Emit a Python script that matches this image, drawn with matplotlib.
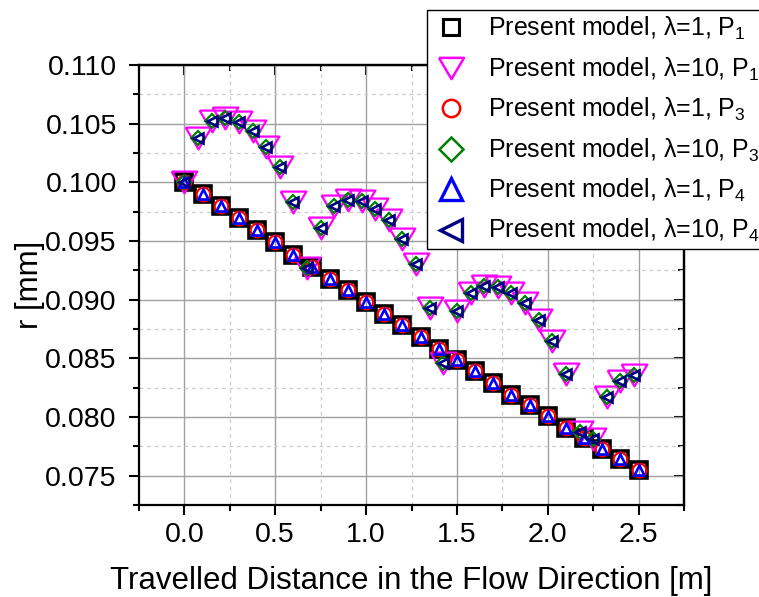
import numpy as np
import matplotlib
matplotlib.use("Agg")
import matplotlib.pyplot as plt
from matplotlib.ticker import MultipleLocator, FormatStrFormatter

plt.rcParams['font.family'] = ['Liberation Sans', 'DejaVu Sans']
plt.rcParams['mathtext.fontset'] = 'custom'
plt.rcParams['mathtext.rm'] = 'Liberation Sans'
plt.rcParams['mathtext.it'] = 'Liberation Sans:italic'
plt.rcParams['mathtext.bf'] = 'Liberation Sans:bold'

# ---- data ----
x_lam1 = [0.0, 0.1, 0.2, 0.3, 0.4, 0.5, 0.6, 0.7, 0.8, 0.9, 1.0, 1.1, 1.2,
          1.3, 1.4, 1.5, 1.6, 1.7, 1.8, 1.9, 2.0, 2.1, 2.2, 2.3, 2.4, 2.5]
r_lam1 = [0.1000, 0.0990, 0.0980, 0.0970, 0.0959, 0.0949, 0.0938, 0.0928,
          0.0918, 0.0908, 0.0898, 0.0888, 0.0878, 0.0868, 0.0858, 0.0849,
          0.0839, 0.0829, 0.0819, 0.0810, 0.0801, 0.0791, 0.0782, 0.0773,
          0.0764, 0.0755]

x_lam10 = [0.000, 0.075, 0.150, 0.225, 0.300, 0.375, 0.450, 0.525, 0.600,
           0.675, 0.750, 0.825, 0.900, 0.975, 1.050, 1.125, 1.200, 1.275,
           1.350, 1.425, 1.500, 1.575, 1.650, 1.725, 1.800, 1.875, 1.950,
           2.025, 2.100, 2.175, 2.250, 2.325, 2.400, 2.475]
r_lam10 = [0.1000, 0.1038, 0.1052, 0.1055, 0.1051, 0.1044, 0.1030, 0.1013,
           0.0983, 0.0927, 0.0961, 0.0980, 0.0985, 0.0984, 0.0977, 0.0968,
           0.0952, 0.0930, 0.0893, 0.0846, 0.0890, 0.0906, 0.0912, 0.0911,
           0.0906, 0.0897, 0.0883, 0.0865, 0.0837, 0.0787, 0.0781, 0.0817,
           0.0831, 0.0836]

labels = ["Present model, λ=1, P$_1$", "Present model, λ=10, P$_1$",
          "Present model, λ=1, P$_3$", "Present model, λ=10, P$_3$",
          "Present model, λ=1, P$_4$", "Present model, λ=10, P$_4$"]

W, H = 759, 597
fig = plt.figure(figsize=(W / 100, H / 100), dpi=100)
ax = fig.add_axes([139 / W, 1 - 505 / H, (684 - 139) / W, (505 - 65) / H])

tri_down = [(-1, 0.85), (1, 0.85), (0, -0.85), (-1, 0.85)]

styles = [
    dict(x=x_lam1, y=r_lam1, marker='s', ms=11.8, mew=2.6, c='black', lms=12.0, lmew=2.2),
    dict(x=x_lam10, y=r_lam10, marker=tri_down, ms=18.5, mew=1.6, c='#ff00ff', lms=18.0, lmew=1.8),
    dict(x=x_lam1, y=r_lam1, marker='o', ms=9.8, mew=1.6, c='#ff0000', lms=12.5, lmew=1.8),
    dict(x=x_lam10, y=r_lam10, marker='D', ms=7.6, mew=1.6, c='#008000', lms=12.0, lmew=1.8),
    dict(x=x_lam1, y=r_lam1, marker='^', ms=6.8, mew=1.9, c='#0000ff', lms=16.0, lmew=2.4),
    dict(x=x_lam10, y=r_lam10, marker='<', ms=6.5, mew=1.9, c='#000080', lms=16.0, lmew=2.4),
]

for s, lab in zip(styles, labels):
    ax.plot(s['x'], s['y'], linestyle='none', marker=s['marker'],
            markersize=s['ms'], markeredgewidth=s['mew'],
            markerfacecolor='none', markeredgecolor=s['c'], label=lab,
            zorder=3)

ax.set_xlim(-0.25, 2.75)
ax.set_ylim(0.0725, 0.110)
ax.xaxis.set_major_locator(MultipleLocator(0.5))
ax.xaxis.set_minor_locator(MultipleLocator(0.25))
ax.yaxis.set_major_locator(MultipleLocator(0.005))
ax.yaxis.set_minor_locator(MultipleLocator(0.0025))
ax.xaxis.set_major_formatter(FormatStrFormatter('%.1f'))
ax.yaxis.set_major_formatter(FormatStrFormatter('%.3f'))

ax.grid(True, which='major', color='#a0a0a0', linewidth=1.0, linestyle='-', zorder=0)
ax.grid(True, which='minor', color='#cccccc', linewidth=0.9, linestyle=(0, (3, 3)), zorder=0)
ax.set_axisbelow(True)

for sp in ax.spines.values():
    sp.set_linewidth(1.6)

ax.tick_params(axis='both', which='major', direction='out', length=7, width=1.5,
               labelsize=20.5)
ax.tick_params(axis='x', which='major', pad=5)
ax.tick_params(axis='y', which='major', pad=9)
ax.tick_params(axis='both', which='minor', direction='out', length=4, width=1.5)
# top and right: inward ticks
sec_x = ax.secondary_xaxis('top')
sec_x.xaxis.set_major_locator(MultipleLocator(0.5))
sec_x.xaxis.set_minor_locator(MultipleLocator(0.25))
sec_x.tick_params(which='major', direction='in', length=7, width=1.5, labeltop=False)
sec_x.tick_params(which='minor', direction='in', length=4, width=1.5)
sec_x.spines['top'].set_linewidth(1.6)
sec_y = ax.secondary_yaxis('right')
sec_y.yaxis.set_major_locator(MultipleLocator(0.005))
sec_y.yaxis.set_minor_locator(MultipleLocator(0.0025))
sec_y.tick_params(which='major', direction='in', length=7, width=1.5, labelright=False)
sec_y.tick_params(which='minor', direction='in', length=4, width=1.5)
sec_y.spines['right'].set_linewidth(1.6)

ax.set_xlabel('Travelled Distance in the Flow Direction [m]', fontsize=22.5, labelpad=13)
ax.set_ylabel('r [mm]', fontsize=22.5, labelpad=0.5)

leg = fig.legend(loc='upper left', bbox_to_anchor=(427 / W, 1 - 10 / H),
                 fontsize=18, frameon=True, fancybox=False, framealpha=1,
                 edgecolor='black', borderaxespad=0, labelspacing=0.53,
                 handletextpad=0.74, borderpad=0.2, handlelength=1.48)
leg.get_frame().set_linewidth(1.0)
for h, s in zip(leg.legend_handles, styles):
    h.set_markersize(s['lms'])
    h.set_markeredgewidth(s['lmew'])

fig.savefig('out.png', dpi=100)
